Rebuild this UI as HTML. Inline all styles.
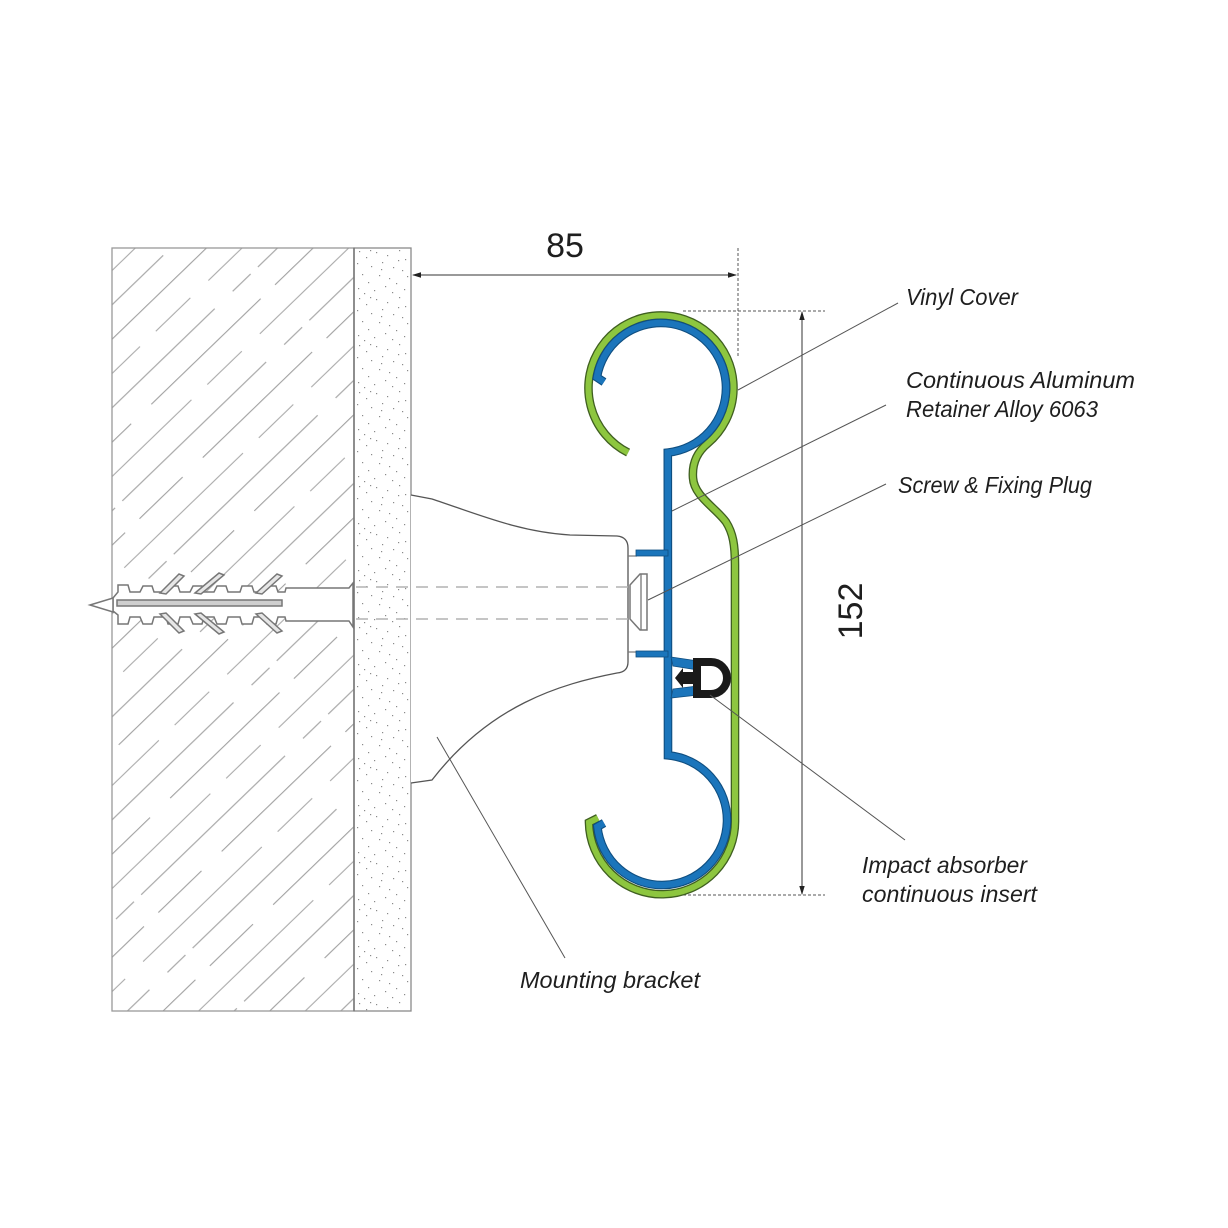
<!DOCTYPE html>
<html>
<head>
<meta charset="utf-8">
<style>
  html,body{margin:0;padding:0;background:#fff;}
  svg{display:block;}
  .lbl{font-family:"Liberation Sans",sans-serif;font-style:italic;font-size:23px;fill:#1e1e1e;}
  .dim{font-family:"Liberation Sans",sans-serif;font-size:34px;fill:#1e1e1e;}
</style>
</head>
<body>
<svg width="1228" height="1228" viewBox="0 0 1228 1228" xmlns="http://www.w3.org/2000/svg">
  <defs>
    <pattern id="hatch" patternUnits="userSpaceOnUse" width="260" height="74.1" patternTransform="rotate(-44)">
      <g stroke="#a2a2a2" stroke-width="1.1">
        <line x1="0" y1="0.7" x2="200" y2="0.7"/>
        <line x1="225" y1="0.7" x2="250" y2="0.7"/>
        <line x1="0" y1="25.4" x2="60" y2="25.4"/>
        <line x1="88" y1="25.4" x2="240" y2="25.4"/>
        <line x1="0" y1="50.1" x2="120" y2="50.1"/>
        <line x1="142" y1="50.1" x2="190" y2="50.1"/>
        <line x1="215" y1="50.1" x2="260" y2="50.1"/>
      </g>
    </pattern>
    <pattern id="speck" patternUnits="userSpaceOnUse" width="57" height="47" x="354" y="248">
      <g fill="#8a8a8a">
        <rect x="5" y="3" width="1.2" height="1.2"/><rect x="12" y="9" width="1.2" height="1.2"/>
        <rect x="22" y="4" width="1.2" height="1.2"/><rect x="33" y="7" width="1.2" height="1.2"/>
        <rect x="45" y="2" width="1.2" height="1.2"/><rect x="51" y="11" width="1.2" height="1.2"/>
        <rect x="3" y="15" width="1.2" height="1.2"/><rect x="17" y="18" width="1.2" height="1.2"/>
        <rect x="28" y="14" width="1.2" height="1.2"/><rect x="39" y="19" width="1.2" height="1.2"/>
        <rect x="48" y="22" width="1.2" height="1.2"/><rect x="8" y="26" width="1.2" height="1.2"/>
        <rect x="25" y="27" width="1.2" height="1.2"/><rect x="35" y="30" width="1.2" height="1.2"/>
        <rect x="53" y="28" width="1.2" height="1.2"/><rect x="14" y="34" width="1.2" height="1.2"/>
        <rect x="42" y="35" width="1.2" height="1.2"/><rect x="4" y="40" width="1.2" height="1.2"/>
        <rect x="20" y="42" width="1.2" height="1.2"/><rect x="31" y="38" width="1.2" height="1.2"/>
        <rect x="50" y="41" width="1.2" height="1.2"/><rect x="10" y="45" width="1.2" height="1.2"/>
        <rect x="38" y="44" width="1.2" height="1.2"/><rect x="27" y="21" width="1.2" height="1.2"/>
        <rect x="44" y="12" width="1.2" height="1.2"/><rect x="16" y="2" width="1.2" height="1.2"/>
      </g>
    </pattern>
  </defs>

  <!-- wall -->
  <rect x="112" y="248" width="242" height="763" fill="url(#hatch)" stroke="#999" stroke-width="1.3"/>
  <!-- plaster -->
  <rect x="354" y="248" width="57" height="763" fill="url(#speck)" stroke="#8a8a8a" stroke-width="1.3"/>
  <line x1="354" y1="248" x2="354" y2="1011" stroke="#777" stroke-width="1.4"/>

  <!-- mounting bracket -->
  <path d="M411 495 L432 499 C480 515 520 532 570 535 L617 536 Q628 537 628 548 L628 662 Q628 672 617 673 C560 684 490 705 432 780 L411 783"
        fill="#fff" stroke="#555" stroke-width="1.3"/>
  <line x1="628" y1="556" x2="637" y2="556" stroke="#777" stroke-width="1.2"/>
  <line x1="628" y1="652" x2="637" y2="652" stroke="#777" stroke-width="1.2"/>

  <!-- screw dashed lines -->
  <line x1="356" y1="587" x2="628" y2="587" stroke="#b2b2b2" stroke-width="1.6" stroke-dasharray="12 8"/>
  <line x1="356" y1="619" x2="628" y2="619" stroke="#b2b2b2" stroke-width="1.6" stroke-dasharray="12 8"/>

  <!-- screw head -->
  <path d="M630 585 L640 574 L647 574 L647 630 L640 630 L630 619 Z" fill="#fff" stroke="#777" stroke-width="1.5"/>
  <line x1="641" y1="574" x2="641" y2="630" stroke="#777" stroke-width="1.3"/>

  <!-- fixing plug -->
  <g stroke="#777" stroke-width="1.5" fill="#fff" stroke-linejoin="miter">
    <path d="M113 598 L118 592 L118 585 L128 585 L130 592 L140 592 L143 586 L152 586 L154 592 L166 592 L168 586 L178 586 L180 592 L190 592 L193 586 L202 586 L204 592 L214 592 L217 586 L226 586 L228 592 L240 592 L242 586 L252 586 L254 592 L264 592 L267 586 L276 586 L278 592 L285 592 L286 588 L349 588 L353 583 L353 627 L349 621 L286 621 L285 617 L278 617 L276 624 L267 624 L264 617 L254 617 L252 624 L242 624 L240 617 L228 617 L226 624 L217 624 L214 617 L204 617 L202 624 L193 624 L190 617 L180 617 L178 624 L168 624 L166 617 L154 617 L152 624 L143 624 L140 617 L130 617 L128 624 L118 624 L118 615 L113 611 Z"/>
    <path d="M90 605 L113 598 L113 612 Z" fill="#fff"/>
    <path d="M160 593 L179 574 L184 576 L166 594 Z" fill="#e6e6e6"/>
    <path d="M195 593 L219 573 L224 575 L201 594 Z" fill="#e6e6e6"/>
    <path d="M256 593 L277 574 L282 576 L262 594 Z" fill="#e6e6e6"/>
    <path d="M160 614 L179 633 L184 631 L166 613 Z" fill="#e6e6e6"/>
    <path d="M195 614 L219 634 L224 632 L201 613 Z" fill="#e6e6e6"/>
    <path d="M256 614 L277 633 L282 631 L262 613 Z" fill="#e6e6e6"/>
    <rect x="117" y="600" width="165" height="6" fill="#cfcfcf"/>
  </g>

  <!-- dimension 85 -->
  <line x1="738" y1="248" x2="738" y2="356" stroke="#555" stroke-width="1" stroke-dasharray="3 2"/>
  <line x1="413" y1="275" x2="736" y2="275" stroke="#333" stroke-width="1"/>
  <polygon points="412,275 421,272.3 421,277.7" fill="#222"/>
  <polygon points="737,275 728,272.3 728,277.7" fill="#222"/>
  <text class="dim" x="565" y="257" text-anchor="middle">85</text>

  <!-- dimension 152 -->
  <line x1="683" y1="311" x2="825" y2="311" stroke="#555" stroke-width="1" stroke-dasharray="3 2"/>
  <line x1="683" y1="895" x2="825" y2="895" stroke="#555" stroke-width="1" stroke-dasharray="3 2"/>
  <line x1="802" y1="312" x2="802" y2="894" stroke="#333" stroke-width="1"/>
  <polygon points="802,311 799.3,320 804.7,320" fill="#222"/>
  <polygon points="802,895 799.3,886 804.7,886" fill="#222"/>
  <text class="dim" transform="translate(862,611) rotate(-90)" text-anchor="middle" x="0" y="0">152</text>

  <!-- vinyl cover (green) -->
  <path d="M628.1 452.6 A72.5 72.5 0 1 1 707.6 443.5 C696 453 692 465 693 478 C694 496 716 508 726 522 C733 533 735 545 735 565 L735 820 A73 73 0 0 1 589 822.5 L598 818"
        fill="none" stroke="#3f5f20" stroke-width="8.6"/>
  <path d="M628.1 452.6 A72.5 72.5 0 1 1 707.6 443.5 C696 453 692 465 693 478 C694 496 716 508 726 522 C733 533 735 545 735 565 L735 820 A73 73 0 0 1 589 822.5 L598 818"
        fill="none" stroke="#8dc63f" stroke-width="6"/>

  <!-- aluminum retainer (blue) -->
  <path d="M604 382 L596.9 377.3 A65 65 0 1 1 667.8 452.6 L668 755.3 A65 65 0 1 1 597.4 826.8 L604 823"
        fill="none" stroke="#0f4e80" stroke-width="8.6" stroke-linejoin="miter"/>
  <path d="M604 382 L596.9 377.3 A65 65 0 1 1 667.8 452.6 L668 755.3 A65 65 0 1 1 597.4 826.8 L604 823"
        fill="none" stroke="#1b75bb" stroke-width="6.4" stroke-linejoin="miter"/>
  <rect x="636" y="550" width="32" height="6" fill="#1b75bb" stroke="#0f4e80" stroke-width="0.8"/>
  <rect x="636" y="651" width="32" height="6" fill="#1b75bb" stroke="#0f4e80" stroke-width="0.8"/>
  <path d="M671 657 L698 661 L698 670 L673 666 Z" fill="#1b75bb" stroke="#0f4e80" stroke-width="0.8"/>
  <path d="M673 689 L698 686 L698 695 L671 698 Z" fill="#1b75bb" stroke="#0f4e80" stroke-width="0.8"/>

  <!-- impact absorber (black D) -->
  <path d="M697 662 L711 662 A16 16 0 0 1 711 694 L697 694 Z" fill="#fff" stroke="#1a1a1a" stroke-width="8"/>
  <polygon points="675,678 683,668 683,672 696,672 696,684 683,684 683,688" fill="#1a1a1a"/>

  <!-- leader lines -->
  <g stroke="#555" stroke-width="1">
    <line x1="898" y1="303" x2="738" y2="390"/>
    <line x1="886" y1="405" x2="672" y2="511"/>
    <line x1="886" y1="484" x2="648" y2="600"/>
    <line x1="905" y1="840" x2="710" y2="695"/>
    <line x1="565" y1="958" x2="437" y2="737"/>
  </g>

  <!-- labels -->
  <text class="lbl" x="906" y="305" textLength="112" lengthAdjust="spacingAndGlyphs">Vinyl Cover</text>
  <text class="lbl" x="906" y="388" textLength="229" lengthAdjust="spacingAndGlyphs">Continuous Aluminum</text>
  <text class="lbl" x="906" y="417" textLength="192" lengthAdjust="spacingAndGlyphs">Retainer Alloy 6063</text>
  <text class="lbl" x="898" y="493" textLength="194" lengthAdjust="spacingAndGlyphs">Screw &amp; Fixing Plug</text>
  <text class="lbl" x="862" y="873" textLength="165" lengthAdjust="spacingAndGlyphs">Impact absorber</text>
  <text class="lbl" x="862" y="902" textLength="175" lengthAdjust="spacingAndGlyphs">continuous insert</text>
  <text class="lbl" x="520" y="988" textLength="180" lengthAdjust="spacingAndGlyphs">Mounting bracket</text>
</svg>
</body>
</html>
